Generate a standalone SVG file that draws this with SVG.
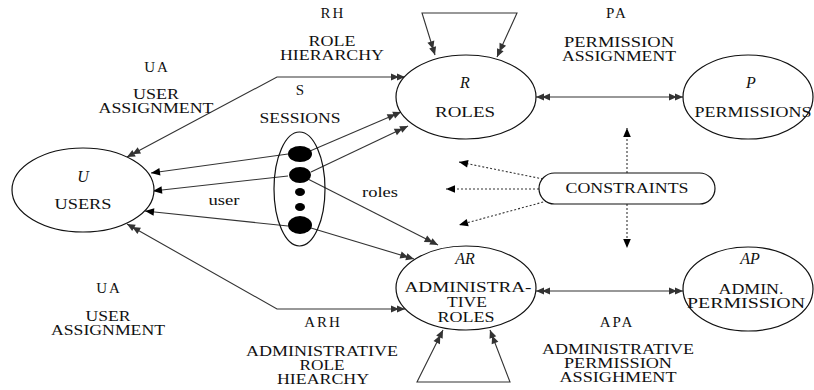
<svg xmlns="http://www.w3.org/2000/svg" width="814" height="390" viewBox="0 0 814 390">
<style>
text{font-family:"Liberation Serif","DejaVu Serif","Times New Roman",serif;font-size:14px;fill:#111;text-anchor:middle}
.it{font-style:italic;font-size:16px}
.ab{font-size:15px;letter-spacing:2px}
.node{fill:#fff;stroke:#111;stroke-width:1.2}
.ring{fill:none;stroke:#111;stroke-width:1.2}
.dot{fill:#000}
.c{fill:none;stroke:#333;stroke-width:1.1}
.dd{fill:none;stroke:#333;stroke-width:1.1;stroke-dasharray:2,2}
</style>
<defs>
<marker id="dbl" viewBox="-15 -5 16 10" refX="0" refY="0" markerWidth="16" markerHeight="10" markerUnits="userSpaceOnUse" orient="auto-start-reverse">
<path d="M0,0 L-8,-3.6 L-8,3.6 Z M-6,0 L-14,-3.6 L-14,3.6 Z" fill="#333"/>
</marker>
<marker id="one" viewBox="-10 -5 11 10" refX="0" refY="0" markerWidth="11" markerHeight="10" markerUnits="userSpaceOnUse" orient="auto-start-reverse">
<path d="M0,0 L-9,-3.8 L-9,3.8 Z" fill="#000"/>
</marker>
</defs>

<g id="connectors">
<polyline class="c" points="127,157 277,77 405,77" marker-start="url(#dbl)" marker-end="url(#dbl)"/>
<polyline class="c" points="127,224 277,309 405,309" marker-start="url(#dbl)" marker-end="url(#dbl)"/>
<polyline class="c" points="435,55 422,13 517,13 497,57" marker-start="url(#dbl)" marker-end="url(#dbl)"/>
<polyline class="c" points="443,330 417,382 510,382 490,330" marker-start="url(#dbl)" marker-end="url(#dbl)"/>
<line class="c" x1="536" y1="97" x2="683" y2="97" marker-start="url(#dbl)" marker-end="url(#dbl)"/>
<line class="c" x1="536" y1="291" x2="683" y2="291" marker-start="url(#dbl)" marker-end="url(#dbl)"/>
<line class="c" x1="288" y1="154" x2="151" y2="173" marker-end="url(#one)"/>
<line class="c" x1="288" y1="176" x2="153" y2="191" marker-end="url(#one)"/>
<line class="c" x1="288" y1="226" x2="145" y2="211" marker-end="url(#one)"/>
<line class="c" x1="310" y1="151" x2="401" y2="112" marker-end="url(#dbl)"/>
<line class="c" x1="311" y1="172" x2="408" y2="126" marker-end="url(#dbl)"/>
<line class="c" x1="300" y1="175" x2="438" y2="245" marker-end="url(#dbl)"/>
<line class="c" x1="311" y1="228" x2="414" y2="259" marker-end="url(#dbl)"/>
<line class="dd" x1="627" y1="173" x2="627" y2="128" marker-end="url(#one)"/>
<line class="dd" x1="627" y1="204" x2="627" y2="248" marker-end="url(#one)"/>
<line class="dd" x1="543" y1="179" x2="459" y2="162" marker-end="url(#one)"/>
<line class="dd" x1="539" y1="189" x2="446" y2="189" marker-end="url(#one)"/>
<line class="dd" x1="547" y1="201" x2="459" y2="225" marker-end="url(#one)"/>
</g>

<g id="users">
<ellipse class="node" cx="83" cy="190" rx="71" ry="42"/>
<text class="it" x="83" y="182">U</text>
<text x="83" y="209" textLength="57" lengthAdjust="spacingAndGlyphs">USERS</text>
</g>
<g id="sessions">
<ellipse class="ring" cx="299.5" cy="189" rx="25.5" ry="57"/>
<ellipse class="dot" cx="300" cy="154" rx="12" ry="8"/>
<ellipse class="dot" cx="300" cy="175" rx="11" ry="8"/>
<ellipse class="dot" cx="300" cy="192" rx="5" ry="4"/>
<ellipse class="dot" cx="300" cy="207" rx="5" ry="4"/>
<ellipse class="dot" cx="300" cy="225" rx="12" ry="9"/>
</g>
<g id="roles">
<ellipse class="node" cx="466" cy="97" rx="70" ry="42"/>
<text class="it" x="465" y="88">R</text>
<text x="465" y="117" textLength="60" lengthAdjust="spacingAndGlyphs">ROLES</text>
</g>
<g id="permissions">
<ellipse class="node" cx="748" cy="97" rx="65" ry="42"/>
<text class="it" x="751" y="88">P</text>
<text x="753" y="117" textLength="117" lengthAdjust="spacingAndGlyphs">PERMISSIONS</text>
</g>
<g id="constraints">
<rect class="node" x="539" y="173" width="176" height="31" rx="15.5"/>
<text x="627" y="193" textLength="123" lengthAdjust="spacingAndGlyphs">CONSTRAINTS</text>
</g>
<g id="adminroles">
<ellipse class="node" cx="466" cy="288" rx="70" ry="42"/>
<text class="it" x="465" y="264">AR</text>
<text x="468" y="292" textLength="127" lengthAdjust="spacingAndGlyphs">ADMINISTRA-</text>
<text x="467" y="307" textLength="40" lengthAdjust="spacingAndGlyphs">TIVE</text>
<text x="466" y="322" textLength="57" lengthAdjust="spacingAndGlyphs">ROLES</text>
</g>
<g id="adminperm">
<ellipse class="node" cx="748" cy="289" rx="65" ry="42"/>
<text class="it" x="750" y="264">AP</text>
<text x="751" y="294" textLength="65" lengthAdjust="spacingAndGlyphs">ADMIN.</text>
<text x="746" y="308" textLength="118" lengthAdjust="spacingAndGlyphs">PERMISSION</text>
</g>

<g id="labels">
<text class="ab" x="333" y="18">RH</text>
<text x="332" y="46" textLength="47" lengthAdjust="spacingAndGlyphs">ROLE</text>
<text x="332" y="60" textLength="104" lengthAdjust="spacingAndGlyphs">HIERARCHY</text>
<text class="ab" x="157" y="72">UA</text>
<text x="156" y="99" textLength="46" lengthAdjust="spacingAndGlyphs">USER</text>
<text x="156" y="113" textLength="115" lengthAdjust="spacingAndGlyphs">ASSIGNMENT</text>
<text class="ab" x="301" y="95">S</text>
<text x="300" y="123" textLength="81" lengthAdjust="spacingAndGlyphs">SESSIONS</text>
<text class="ab" x="617" y="18">PA</text>
<text x="619" y="47" textLength="110" lengthAdjust="spacingAndGlyphs">PERMISSION</text>
<text x="619" y="61" textLength="114" lengthAdjust="spacingAndGlyphs">ASSIGNMENT</text>
<text x="224" y="205" textLength="31" lengthAdjust="spacingAndGlyphs">user</text>
<text x="380" y="197" textLength="36" lengthAdjust="spacingAndGlyphs">roles</text>
<text class="ab" x="109" y="293">UA</text>
<text x="108" y="321" textLength="45" lengthAdjust="spacingAndGlyphs">USER</text>
<text x="108" y="335" textLength="114" lengthAdjust="spacingAndGlyphs">ASSIGNMENT</text>
<text class="ab" x="323" y="327">ARH</text>
<text x="322" y="356" textLength="152" lengthAdjust="spacingAndGlyphs">ADMINISTRATIVE</text>
<text x="322" y="370" textLength="45" lengthAdjust="spacingAndGlyphs">ROLE</text>
<text x="323" y="384" textLength="92" lengthAdjust="spacingAndGlyphs">HIEARCHY</text>
<text class="ab" x="617" y="327">APA</text>
<text x="618" y="354" textLength="152" lengthAdjust="spacingAndGlyphs">ADMINISTRATIVE</text>
<text x="618" y="368" textLength="108" lengthAdjust="spacingAndGlyphs">PERMISSION</text>
<text x="618" y="382" textLength="117" lengthAdjust="spacingAndGlyphs">ASSIGHMENT</text>
</g>
</svg>
